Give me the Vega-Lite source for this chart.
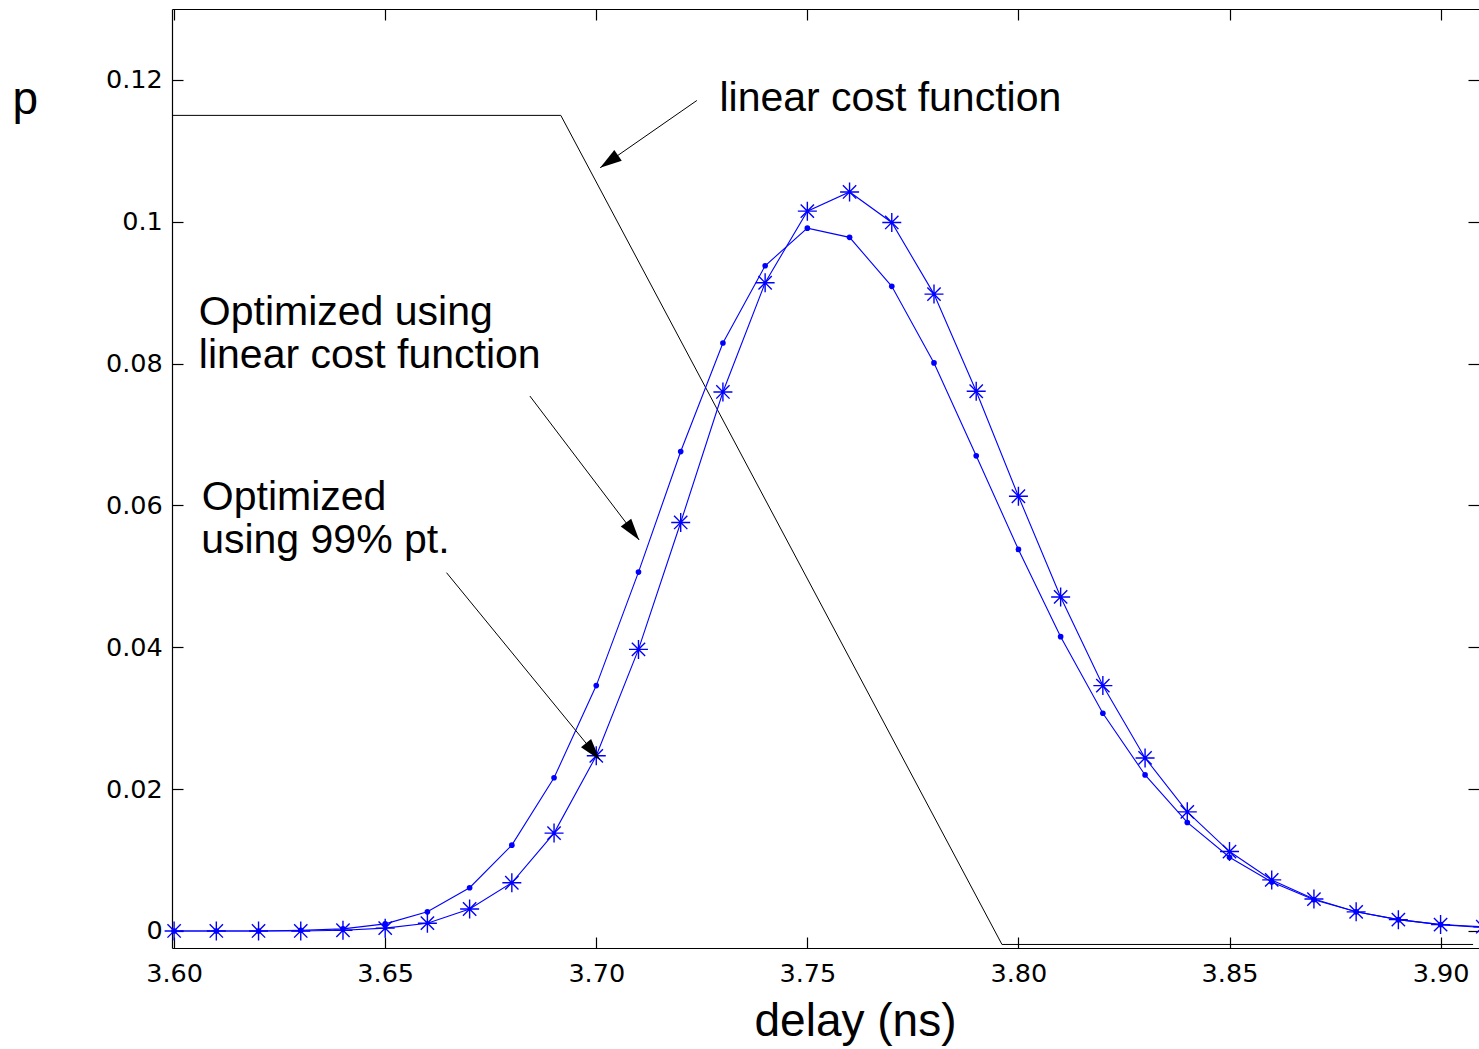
{
  "$schema": "https://vega.github.io/schema/vega-lite/v6.json",
  "width": 1307,
  "height": 939,
  "padding": {"left": 172, "top": 9, "right": 0, "bottom": 101},
  "autosize": {"type": "none"},
  "background": "white",
  "config": {
    "view": {"stroke": null},
    "axis": {"grid": false, "domainColor": "black", "tickColor": "black", "labelColor": "black", "titleColor": "black", "domainWidth": 1.2, "tickWidth": 1.2}
  },
  "datasets": {
    "cost": [
      {"x": 3.5995, "p": 0.1150},
      {"x": 3.6916, "p": 0.1150},
      {"x": 3.7961, "p": -0.0019},
      {"x": 3.9077, "p": -0.0019}
    ],
    "curves": [
      {"x": 3.60, "p": 0.0000, "s": "dot"}, {"x": 3.61, "p": 0.0000, "s": "dot"}, {"x": 3.62, "p": 0.0000, "s": "dot"},
      {"x": 3.63, "p": 0.0001, "s": "dot"}, {"x": 3.64, "p": 0.0003, "s": "dot"}, {"x": 3.65, "p": 0.0010, "s": "dot"},
      {"x": 3.66, "p": 0.0027, "s": "dot"}, {"x": 3.67, "p": 0.0061, "s": "dot"}, {"x": 3.68, "p": 0.0121, "s": "dot"},
      {"x": 3.69, "p": 0.0216, "s": "dot"}, {"x": 3.70, "p": 0.0346, "s": "dot"}, {"x": 3.71, "p": 0.0506, "s": "dot"},
      {"x": 3.72, "p": 0.0676, "s": "dot"}, {"x": 3.73, "p": 0.0829, "s": "dot"}, {"x": 3.74, "p": 0.0938, "s": "dot"},
      {"x": 3.75, "p": 0.0991, "s": "dot"}, {"x": 3.76, "p": 0.0978, "s": "dot"}, {"x": 3.77, "p": 0.0909, "s": "dot"},
      {"x": 3.78, "p": 0.0801, "s": "dot"}, {"x": 3.79, "p": 0.0670, "s": "dot"}, {"x": 3.80, "p": 0.0538, "s": "dot"},
      {"x": 3.81, "p": 0.0415, "s": "dot"}, {"x": 3.82, "p": 0.0307, "s": "dot"}, {"x": 3.83, "p": 0.0220, "s": "dot"},
      {"x": 3.84, "p": 0.0153, "s": "dot"}, {"x": 3.85, "p": 0.0104, "s": "dot"}, {"x": 3.86, "p": 0.0069, "s": "dot"},
      {"x": 3.87, "p": 0.0044, "s": "dot"}, {"x": 3.88, "p": 0.0027, "s": "dot"}, {"x": 3.89, "p": 0.0016, "s": "dot"},
      {"x": 3.90, "p": 0.0009, "s": "dot"}, {"x": 3.91, "p": 0.0005, "s": "dot"},
      {"x": 3.60, "p": 0.0000, "s": "star"}, {"x": 3.61, "p": 0.0000, "s": "star"}, {"x": 3.62, "p": 0.0000, "s": "star"},
      {"x": 3.63, "p": 0.0000, "s": "star"}, {"x": 3.64, "p": 0.0001, "s": "star"}, {"x": 3.65, "p": 0.0004, "s": "star"},
      {"x": 3.66, "p": 0.0011, "s": "star"}, {"x": 3.67, "p": 0.0031, "s": "star"}, {"x": 3.68, "p": 0.0068, "s": "star"},
      {"x": 3.69, "p": 0.0138, "s": "star"}, {"x": 3.70, "p": 0.0247, "s": "star"}, {"x": 3.71, "p": 0.0397, "s": "star"},
      {"x": 3.72, "p": 0.0576, "s": "star"}, {"x": 3.73, "p": 0.0760, "s": "star"}, {"x": 3.74, "p": 0.0914, "s": "star"},
      {"x": 3.75, "p": 0.1015, "s": "star"}, {"x": 3.76, "p": 0.1042, "s": "star"}, {"x": 3.77, "p": 0.0999, "s": "star"},
      {"x": 3.78, "p": 0.0898, "s": "star"}, {"x": 3.79, "p": 0.0761, "s": "star"}, {"x": 3.80, "p": 0.0613, "s": "star"},
      {"x": 3.81, "p": 0.0471, "s": "star"}, {"x": 3.82, "p": 0.0346, "s": "star"}, {"x": 3.83, "p": 0.0244, "s": "star"},
      {"x": 3.84, "p": 0.0168, "s": "star"}, {"x": 3.85, "p": 0.0112, "s": "star"}, {"x": 3.86, "p": 0.0072, "s": "star"},
      {"x": 3.87, "p": 0.0045, "s": "star"}, {"x": 3.88, "p": 0.0027, "s": "star"}, {"x": 3.89, "p": 0.0016, "s": "star"},
      {"x": 3.90, "p": 0.0009, "s": "star"}, {"x": 3.91, "p": 0.0006, "s": "star"}
    ],
    "arrows": [
      {"id": "a1", "x": 3.72383, "p": 0.11710, "x2": 3.70092, "p2": 0.10762},
      {"id": "a2", "x": 3.68427, "p": 0.07543, "x2": 3.71016, "p2": 0.05513},
      {"id": "a3", "x": 3.66453, "p": 0.05052, "x2": 3.70085, "p2": 0.02411}
    ],
    "labels": [
      {"x": 3.72917, "p": 0.11555, "t": "linear cost function"},
      {"x": 3.60585, "p": 0.08541, "t": "Optimized using"},
      {"x": 3.60585, "p": 0.07934, "t": "linear cost function"},
      {"x": 3.60656, "p": 0.05929, "t": "Optimized"},
      {"x": 3.60640, "p": 0.05323, "t": "using 99% pt."}
    ]
  },
  "layer": [
    {
      "data": {"name": "cost"},
      "mark": {"type": "line", "color": "black", "strokeWidth": 1},
      "encoding": {
        "x": {"field": "x", "type": "quantitative", "scale": {"domain": [3.5995, 3.9091], "nice": false, "zero": false},
          "axis": {"orient": "bottom", "values": [3.6, 3.65, 3.7, 3.75, 3.8, 3.85, 3.9], "format": ".2f", "tickSize": -11, "labelPadding": 24,
            "labelFont": "DejaVu Sans", "labelFontSize": 25.5, "labelFlush": false, "labelOverlap": false,
            "title": "delay (ns)", "titleFont": "Liberation Sans", "titleFontSize": 46, "titleFontWeight": "normal",
            "titleX": 683, "titleY": 87, "titleAlign": "center", "titleBaseline": "alphabetic"}},
        "y": {"field": "p", "type": "quantitative", "scale": {"domain": [-0.0024, 0.13], "nice": false, "zero": false},
          "axis": {"orient": "left", "values": [0, 0.02, 0.04, 0.06, 0.08, 0.1, 0.12], "format": "~g", "tickSize": -11, "labelPadding": 20.7,
            "labelFont": "DejaVu Sans", "labelFontSize": 25.5, "labelFlush": false, "labelOverlap": false,
            "title": "p", "titleFont": "Liberation Sans", "titleFontSize": 46, "titleFontWeight": "normal", "titleAngle": 0,
            "titleX": -160, "titleY": 104, "titleAlign": "left", "titleBaseline": "alphabetic"}}
      }
    },
    {
      "data": {"name": "cost"},
      "mark": {"type": "point", "opacity": 0},
      "encoding": {
        "x": {"field": "x", "type": "quantitative", "scale": {"domain": [3.5995, 3.9091], "nice": false, "zero": false},
          "axis": {"orient": "top", "values": [3.6, 3.65, 3.7, 3.75, 3.8, 3.85, 3.9], "labels": false, "tickSize": -11, "title": null}},
        "y": {"field": "p", "type": "quantitative", "scale": {"domain": [-0.0024, 0.13], "nice": false, "zero": false},
          "axis": {"orient": "right", "values": [0, 0.02, 0.04, 0.06, 0.08, 0.1, 0.12], "labels": false, "domain": false, "tickSize": -11, "title": null}}
      }
    },
    {
      "data": {"name": "curves"},
      "mark": {"type": "line", "color": "#0000FF", "strokeWidth": 1.1},
      "encoding": {
        "x": {"field": "x", "type": "quantitative", "scale": {"domain": [3.5995, 3.9091], "nice": false, "zero": false}, "axis": null},
        "y": {"field": "p", "type": "quantitative", "scale": {"domain": [-0.0024, 0.13], "nice": false, "zero": false}, "axis": null},
        "detail": {"field": "s"}
      }
    },
    {
      "data": {"name": "curves"},
      "transform": [{"filter": "datum.s === 'dot'"}],
      "mark": {"type": "point", "shape": "circle", "filled": true, "color": "#0000FF", "size": 32, "opacity": 1},
      "encoding": {
        "x": {"field": "x", "type": "quantitative", "scale": {"domain": [3.5995, 3.9091], "nice": false, "zero": false}, "axis": null},
        "y": {"field": "p", "type": "quantitative", "scale": {"domain": [-0.0024, 0.13], "nice": false, "zero": false}, "axis": null}
      }
    },
    {
      "data": {"name": "curves"},
      "transform": [{"filter": "datum.s === 'star'"}],
      "mark": {"type": "point", "shape": "M-1,0L1,0M0,-1L0,1M-0.7,-0.7L0.7,0.7M-0.7,0.7L0.7,-0.7", "filled": false, "stroke": "#0000FF", "strokeWidth": 1.4, "size": 361, "opacity": 1},
      "encoding": {
        "x": {"field": "x", "type": "quantitative", "scale": {"domain": [3.5995, 3.9091], "nice": false, "zero": false}, "axis": null},
        "y": {"field": "p", "type": "quantitative", "scale": {"domain": [-0.0024, 0.13], "nice": false, "zero": false}, "axis": null}
      }
    },
    {
      "data": {"name": "arrows"},
      "mark": {"type": "rule", "color": "black", "strokeWidth": 1},
      "encoding": {
        "x": {"field": "x", "type": "quantitative", "scale": {"domain": [3.5995, 3.9091], "nice": false, "zero": false}, "axis": null},
        "y": {"field": "p", "type": "quantitative", "scale": {"domain": [-0.0024, 0.13], "nice": false, "zero": false}, "axis": null},
        "x2": {"field": "x2"},
        "y2": {"field": "p2"}
      }
    },
    {
      "data": {"name": "arrows"},
      "transform": [{"filter": "datum.id === 'a1'"}],
      "mark": {"type": "point", "shape": "M0,0L-0.3,1L0.3,1Z", "filled": true, "color": "black", "size": 1900, "opacity": 1, "angle": 235.2},
      "encoding": {
        "x": {"field": "x2", "type": "quantitative", "scale": {"domain": [3.5995, 3.9091], "nice": false, "zero": false}, "axis": null},
        "y": {"field": "p2", "type": "quantitative", "scale": {"domain": [-0.0024, 0.13], "nice": false, "zero": false}, "axis": null}
      }
    },
    {
      "data": {"name": "arrows"},
      "transform": [{"filter": "datum.id === 'a2'"}],
      "mark": {"type": "point", "shape": "M0,0L-0.3,1L0.3,1Z", "filled": true, "color": "black", "size": 1900, "opacity": 1, "angle": 142.8},
      "encoding": {
        "x": {"field": "x2", "type": "quantitative", "scale": {"domain": [3.5995, 3.9091], "nice": false, "zero": false}, "axis": null},
        "y": {"field": "p2", "type": "quantitative", "scale": {"domain": [-0.0024, 0.13], "nice": false, "zero": false}, "axis": null}
      }
    },
    {
      "data": {"name": "arrows"},
      "transform": [{"filter": "datum.id === 'a3'"}],
      "mark": {"type": "point", "shape": "M0,0L-0.3,1L0.3,1Z", "filled": true, "color": "black", "size": 1900, "opacity": 1, "angle": 140.7},
      "encoding": {
        "x": {"field": "x2", "type": "quantitative", "scale": {"domain": [3.5995, 3.9091], "nice": false, "zero": false}, "axis": null},
        "y": {"field": "p2", "type": "quantitative", "scale": {"domain": [-0.0024, 0.13], "nice": false, "zero": false}, "axis": null}
      }
    },
    {
      "data": {"name": "labels"},
      "mark": {"type": "text", "align": "left", "baseline": "alphabetic", "font": "Liberation Sans", "fontSize": 41, "color": "black"},
      "encoding": {
        "x": {"field": "x", "type": "quantitative", "scale": {"domain": [3.5995, 3.9091], "nice": false, "zero": false}, "axis": null},
        "y": {"field": "p", "type": "quantitative", "scale": {"domain": [-0.0024, 0.13], "nice": false, "zero": false}, "axis": null},
        "text": {"field": "t"}
      }
    }
  ],
  "resolve": {"axis": {"x": "independent", "y": "independent"}}
}
